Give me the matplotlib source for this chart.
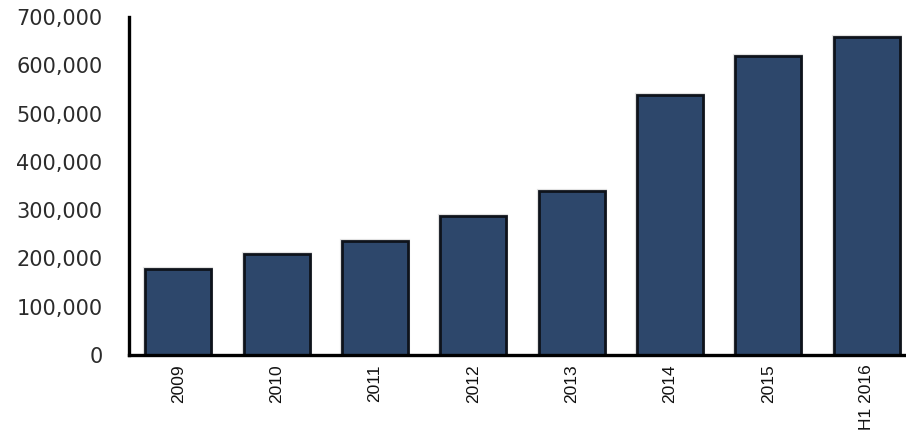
import matplotlib
matplotlib.use("Agg")
import matplotlib.pyplot as plt
from matplotlib.ticker import FuncFormatter

categories = ["2009", "2010", "2011", "2012", "2013", "2014", "2015", "H1 2016"]
values = [178000, 209000, 237000, 288000, 340000, 538000, 620000, 658000]
y_ticks = [0, 100000, 200000, 300000, 400000, 500000, 600000, 700000]

fig = plt.figure(figsize=(9.06, 4.32), dpi=100)
ax = fig.add_axes([129 / 906, 77 / 432, 787 / 906, 338 / 432])

x = range(len(categories))
# soft glow around each bar
ax.bar(x, values, width=0.67, color="none", edgecolor="#a0a0a0", linewidth=3.0, alpha=0.3, zorder=2)
ax.bar(x, values, width=0.67, color="#2d476b", edgecolor="#0e131b", linewidth=2.0, zorder=3)

ax.set_xlim(-0.5, len(categories) - 0.5)
ax.set_ylim(0, 700000)
ax.set_yticks(y_ticks)
ax.yaxis.set_major_formatter(FuncFormatter(lambda v, p: f"{int(v):,}"))

ax.set_xticks(list(x))
ax.set_xticklabels(categories, rotation=90, fontfamily="Liberation Sans", fontsize=12.5, color="#111111")

for lbl in ax.get_yticklabels():
    lbl.set_fontfamily("DejaVu Sans")
    lbl.set_fontsize(15)
    lbl.set_color("#2b2b2b")

ax.tick_params(axis="y", length=0, pad=19)
ax.tick_params(axis="x", length=0, pad=7)

for side in ("top", "right"):
    ax.spines[side].set_visible(False)
for side in ("left", "bottom"):
    ax.spines[side].set_linewidth(2.4)
    ax.spines[side].set_color("black")
    ax.spines[side].set_zorder(4)

fig.savefig("out.png", dpi=100)
